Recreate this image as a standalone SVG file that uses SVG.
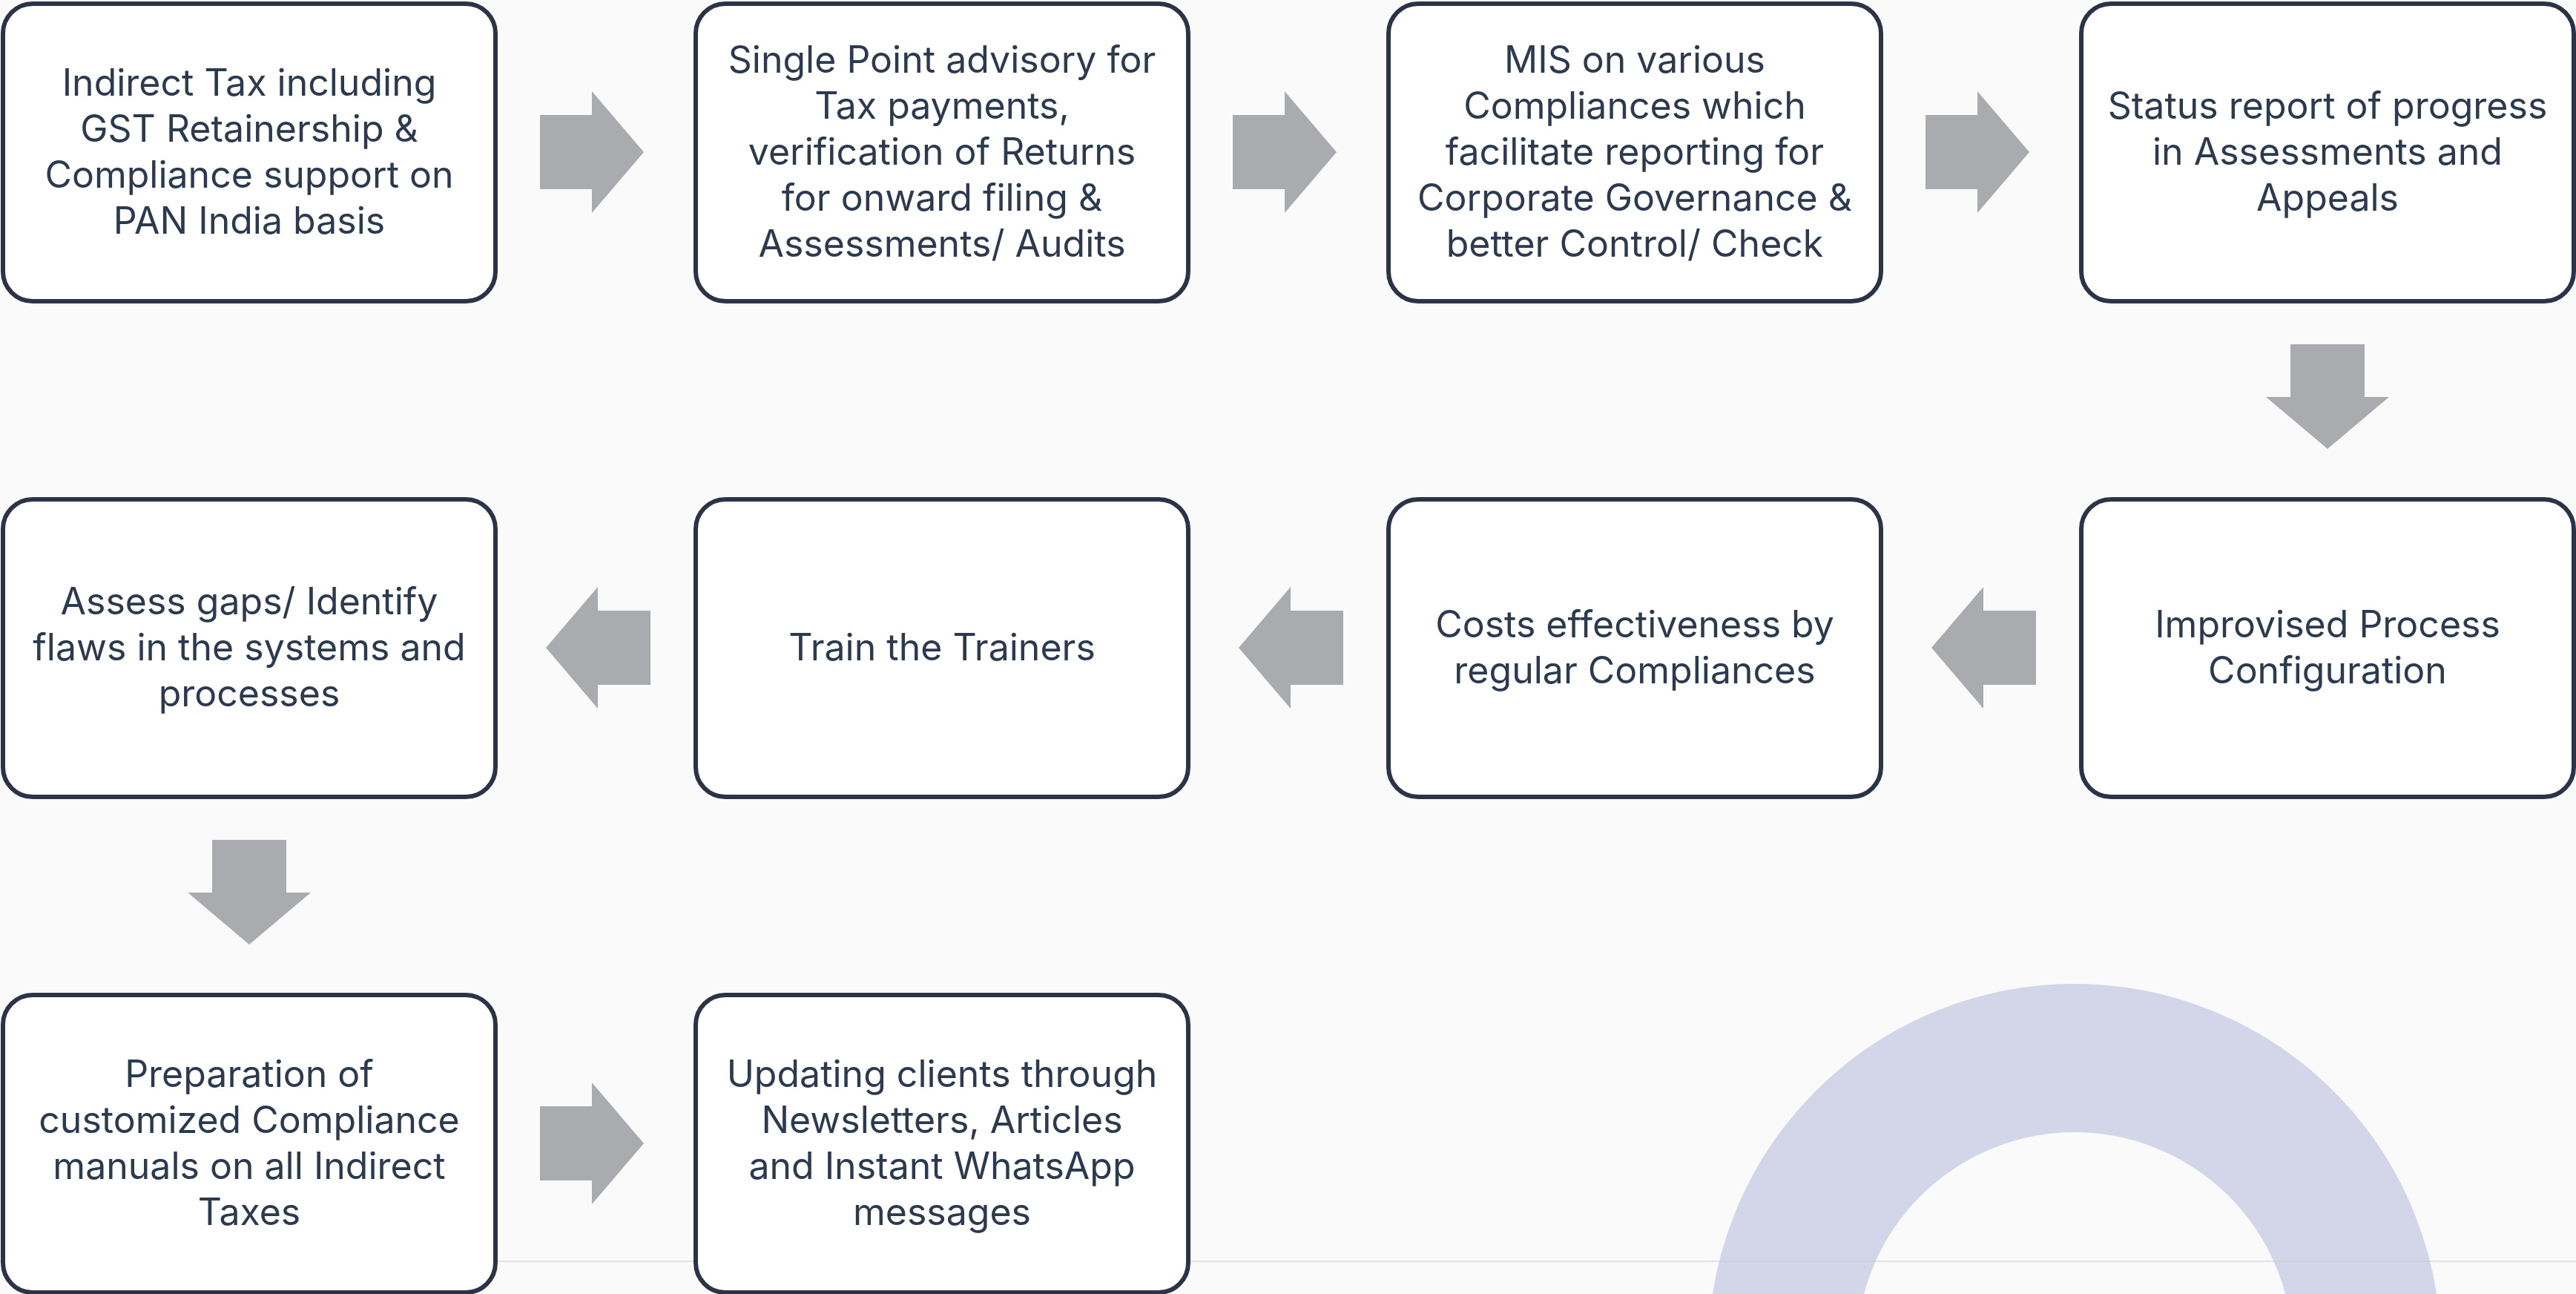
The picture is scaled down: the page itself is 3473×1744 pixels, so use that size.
<svg xmlns="http://www.w3.org/2000/svg" width="3473" height="1744" viewBox="0 0 3473 1744">
<style>
.box{fill:#ffffff;stroke:#2b3447;stroke-width:6}
.t{font-family:Inter,"Open Sans",sans-serif;font-size:50px;fill:#2b3a4e;text-anchor:middle}
.arr{fill:#a9abae}
</style>
<rect x="0" y="0" width="3473" height="1744" fill="#fafafa"/>
<circle cx="2797" cy="1820" r="394" fill="none" stroke="#d3d6e8" stroke-width="200"/>
<line x1="0" y1="1700" x2="3473" y2="1700" stroke="#c8cad6" stroke-opacity="0.5" stroke-width="2"/>
<g id="connectors">
<polygon class="arr" points="728,155 798,155 798,123 868,205 798,287 798,255 728,255"/>
<polygon class="arr" points="1662,155 1732,155 1732,123 1802,205 1732,287 1732,255 1662,255"/>
<polygon class="arr" points="2596,155 2666,155 2666,123 2736,205 2666,287 2666,255 2596,255"/>
<polygon class="arr" points="3088,464 3188,464 3188,535 3221,535 3138,605 3055,535 3088,535"/>
<polygon class="arr" points="2745,823 2674,823 2674,791 2604,873 2674,955 2674,923 2745,923"/>
<polygon class="arr" points="1811,823 1740,823 1740,791 1670,873 1740,955 1740,923 1811,923"/>
<polygon class="arr" points="877,823 806,823 806,791 736,873 806,955 806,923 877,923"/>
<polygon class="arr" points="286,1132 386,1132 386,1203 419,1203 336,1273 253,1203 286,1203"/>
<polygon class="arr" points="728,1491 798,1491 798,1459 868,1541 798,1623 798,1591 728,1591"/>
</g>
<g id="n1"><rect class="box" x="4" y="5" width="664" height="401" rx="40"/>
<text class="t" x="336" y="129">Indirect Tax including</text>
<text class="t" x="336" y="191">GST Retainership &amp;</text>
<text class="t" x="336" y="253">Compliance support on</text>
<text class="t" x="336" y="315">PAN India basis</text></g>
<g id="n2"><rect class="box" x="938" y="5" width="664" height="401" rx="40"/>
<text class="t" x="1270" y="98">Single Point advisory for</text>
<text class="t" x="1270" y="160">Tax payments,</text>
<text class="t" x="1270" y="222">verification of Returns</text>
<text class="t" x="1270" y="284">for onward filing &amp;</text>
<text class="t" x="1270" y="346">Assessments/ Audits</text></g>
<g id="n3"><rect class="box" x="1872" y="5" width="664" height="401" rx="40"/>
<text class="t" x="2204" y="98">MIS on various</text>
<text class="t" x="2204" y="160">Compliances which</text>
<text class="t" x="2204" y="222">facilitate reporting for</text>
<text class="t" x="2204" y="284">Corporate Governance &amp;</text>
<text class="t" x="2204" y="346">better Control/ Check</text></g>
<g id="n4"><rect class="box" x="2806" y="5" width="664" height="401" rx="40"/>
<text class="t" x="3138" y="160">Status report of progress</text>
<text class="t" x="3138" y="222">in Assessments and</text>
<text class="t" x="3138" y="284">Appeals</text></g>
<g id="n5"><rect class="box" x="2806" y="673" width="664" height="401" rx="40"/>
<text class="t" x="3138" y="859">Improvised Process</text>
<text class="t" x="3138" y="921">Configuration</text></g>
<g id="n6"><rect class="box" x="1872" y="673" width="664" height="401" rx="40"/>
<text class="t" x="2204" y="859">Costs effectiveness by</text>
<text class="t" x="2204" y="921">regular Compliances</text></g>
<g id="n7"><rect class="box" x="938" y="673" width="664" height="401" rx="40"/>
<text class="t" x="1270" y="890">Train the Trainers</text></g>
<g id="n8"><rect class="box" x="4" y="673" width="664" height="401" rx="40"/>
<text class="t" x="336" y="828">Assess gaps/ Identify</text>
<text class="t" x="336" y="890">flaws in the systems and</text>
<text class="t" x="336" y="952">processes</text></g>
<g id="n9"><rect class="box" x="4" y="1341" width="664" height="401" rx="40"/>
<text class="t" x="336" y="1465">Preparation of</text>
<text class="t" x="336" y="1527">customized Compliance</text>
<text class="t" x="336" y="1589">manuals on all Indirect</text>
<text class="t" x="336" y="1651">Taxes</text></g>
<g id="n10"><rect class="box" x="938" y="1341" width="664" height="401" rx="40"/>
<text class="t" x="1270" y="1465">Updating clients through</text>
<text class="t" x="1270" y="1527">Newsletters, Articles</text>
<text class="t" x="1270" y="1589">and Instant WhatsApp</text>
<text class="t" x="1270" y="1651">messages</text></g>
</svg>
